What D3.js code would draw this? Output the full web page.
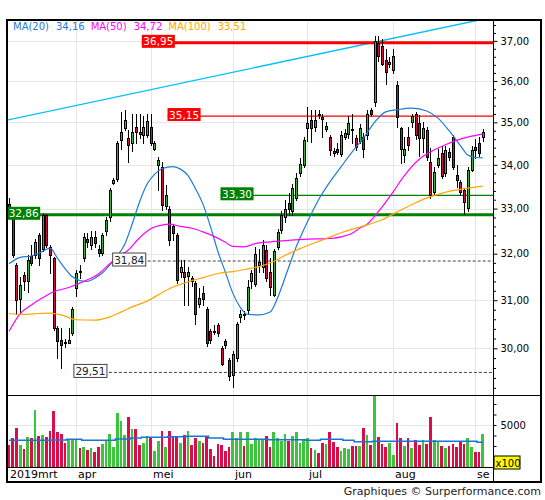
<!DOCTYPE html>
<html><head><meta charset="utf-8">
<script src="https://cdn.jsdelivr.net/npm/d3@7"></script>
<style>body{margin:0;background:#fff}svg{display:block;font-family:"DejaVu Sans",Verdana,sans-serif}</style>
</head><body><svg id="c" width="545" height="500"></svg>
<script>
// ---------- data ----------
const monthLabels = ["2019mrt","apr","mei","jun","jul","aug","se"];
const monthStart  = [0,18,38,60,80,103,125];   // trading-day index of each month start
const priceTicks  = [30,31,32,33,34,35,36,37];

const openP = [33.10,32.86,31.75,31.03,31.54,31.40,31.95,31.97,32.41,32.10,
 32.86,32.15,31.90,30.41,30.17,30.12,30.11,30.31,31.26,31.62,
 31.90,32.33,32.19,32.37,32.10,32.02,32.49,32.82,33.58,33.68,
 34.58,34.86,34.62,34.50,34.90,34.76,34.70,34.70,34.90,34.38,
 34.00,33.96,33.05,33.00,32.60,32.41,31.61,31.61,31.52,31.47,
 31.36,30.93,31.15,30.82,30.35,30.36,30.48,30.00,30.14,29.76,
 29.45,29.80,30.65,30.72,30.79,31.40,31.35,31.75,31.72,32.08,
 31.61,31.10,32.15,32.52,32.80,33.12,32.95,33.25,33.80,34.00,
 34.86,35.05,34.90,35.21,35.12,34.83,34.66,34.32,34.38,34.25,
 34.66,34.72,34.83,34.62,34.55,34.64,34.70,35.29,35.50,36.95,
 36.88,36.52,36.42,36.27,35.91,34.86,34.23,34.66,35.00,35.20,
 34.98,34.62,34.82,34.07,33.38,34.00,34.27,33.80,34.30,34.66,
 33.76,33.61,33.42,33.02,33.88,34.42,34.50,34.66];
const highP = [33.24,32.90,31.80,31.50,31.61,31.97,32.19,32.33,32.45,32.90,
 32.88,32.20,31.93,30.45,30.41,30.20,30.41,30.86,31.65,31.75,
 32.45,32.45,32.50,32.50,32.20,32.45,32.80,33.47,33.70,34.55,
 35.25,35.30,34.82,35.21,35.21,35.21,35.16,35.21,35.21,34.55,
 34.19,34.07,33.53,33.05,32.66,32.45,31.86,31.86,31.72,31.52,
 31.40,31.25,31.30,30.86,30.40,30.47,30.52,30.05,30.20,29.80,
 29.95,30.55,30.80,30.78,31.43,31.65,32.15,32.10,32.30,32.20,
 31.90,32.10,32.55,32.95,33.19,33.35,33.55,33.80,34.15,34.66,
 35.37,35.29,35.29,35.30,35.19,35.00,34.70,34.40,34.50,34.80,
 34.85,35.15,35.20,34.70,34.95,34.75,35.30,35.35,37.12,37.12,
 37.05,36.80,36.60,36.80,36.00,34.90,34.66,34.90,35.20,35.25,
 35.18,35.00,34.90,34.40,33.95,34.38,34.45,34.45,34.40,34.70,
 34.00,33.65,33.45,33.95,34.45,34.60,34.65,34.85];
const lowP = [32.80,31.93,30.72,30.70,31.22,31.18,31.75,31.91,31.75,32.05,
 32.15,31.58,30.38,29.80,29.60,30.03,30.10,30.28,31.08,31.47,
 31.83,32.15,32.10,32.15,31.95,31.97,32.40,32.72,33.55,33.62,
 34.38,34.82,34.07,34.31,34.50,34.62,34.50,34.66,34.46,34.35,
 33.42,32.97,33.00,32.20,32.30,31.36,31.50,30.90,30.90,31.30,
 30.51,30.86,30.90,30.05,30.10,30.30,30.25,29.65,30.00,29.35,
 29.22,29.75,30.55,30.60,30.72,31.26,31.30,31.60,31.60,31.40,
 31.10,31.08,32.10,32.45,32.70,32.86,32.86,33.20,33.75,33.95,
 34.55,34.54,34.80,35.10,34.66,34.80,34.22,34.20,34.25,34.20,
 34.60,34.62,34.50,34.35,34.50,34.19,34.60,35.15,35.40,36.50,
 36.40,35.92,36.35,36.20,34.90,34.04,34.07,34.35,34.90,34.60,
 34.20,34.30,34.10,33.25,33.30,33.96,33.70,33.75,34.10,33.90,
 33.50,33.30,32.88,32.95,33.85,34.15,34.20,34.55];
const closeP = [32.86,31.97,31.00,31.33,31.40,31.86,31.80,32.26,31.91,32.86,
 32.19,31.97,30.41,30.14,30.07,30.10,30.16,30.82,31.58,31.60,
 32.37,32.26,32.37,32.23,32.02,32.41,32.75,33.43,33.65,34.50,
 34.78,35.05,34.46,34.78,34.78,34.72,34.90,35.02,34.50,34.50,
 34.11,33.08,33.31,32.30,32.45,31.43,31.72,31.50,31.61,31.40,
 30.72,31.04,31.02,30.10,30.17,30.34,30.31,29.69,30.07,29.43,
 29.88,30.51,30.72,30.68,31.29,31.58,32.00,31.82,32.19,31.47,
 31.29,32.05,32.47,32.86,33.00,33.00,33.46,33.69,34.03,34.58,
 34.98,34.86,35.05,35.17,35.07,34.91,34.34,34.27,34.30,34.70,
 34.74,34.98,34.81,34.42,34.86,34.38,35.21,35.21,37.00,36.62,
 36.43,36.23,36.48,36.62,35.13,34.38,34.38,34.46,35.14,34.70,
 34.62,34.86,34.19,33.31,33.84,34.15,33.73,34.35,34.19,33.96,
 33.65,33.38,33.15,33.88,34.35,34.35,34.27,34.78];

// volume (x100)
const volume = [2619,3452,4643,2619,2143,3571,3452,6786,3690,3810,
 3571,4286,6667,4167,3929,2857,3214,3214,3214,2262,
 2381,2024,2262,1786,2381,2738,3214,3929,2381,6429,
 5476,3810,5952,4524,4524,2619,2857,3690,3571,1905,
 3095,4286,2381,4286,3690,3571,2857,3810,4286,2619,
 3452,3095,2857,3690,2143,1310,2738,2619,1905,2381,
 4167,3452,4167,2500,4167,2738,3452,3214,3214,3690,
 2381,4167,3452,3095,3929,3095,3690,4167,2857,3333,
 3452,2262,2024,1667,2857,2738,4167,2976,2381,1905,
 2262,2143,2500,2500,2500,4643,3810,2619,8700,3571,
 2738,2381,2857,1429,5238,3452,2500,3452,2262,3214,
 2619,3214,2738,5952,3214,2976,2500,2262,2500,2738,
 2381,2976,2738,3452,2381,1786,1786,3929];
const volumeMA = [3175,3175,3175,3175,3175,3175,3175,3175,3175,3175,
 3175,3175,3214,3214,3214,3214,3294,3294,3294,3294,
 3175,3175,3175,3175,3175,3175,3175,3175,3175,3333,
 3333,3333,3333,3452,3452,3452,3532,3532,3532,3532,
 3532,3532,3532,3611,3611,3611,3611,3611,3651,3651,
 3651,3651,3651,3651,3452,3452,3452,3452,3294,3294,
 3294,3294,3294,3294,3294,3294,3294,3294,3294,3294,
 3250,3250,3250,3250,3250,3250,3250,3250,3250,3250,
 3175,3175,3175,3175,3294,3294,3294,3294,3294,3294,
 3175,3175,3175,3000,3000,3000,3000,3000,3056,3056,
 3056,3056,3056,3056,3056,3056,3056,3056,3056,3056,
 3056,3056,3056,3056,3056,3056,3056,3056,3056,3056,
 3056,3056,3056,3056,3056,3056,2937,2937];

// moving averages (index, value)
const ma20Idx = [0,3,6,9,11,13,15,17,19,21,23,25,27,29,31,33,35,37,39,41,44,46,48,50,52,54,56,58,60,62,64,67,70,72,74,77,80,83,86,89,92,95,98,101,104,108,112,115,118,121,123,125,127];
const ma20Val = [31.78,31.92,31.95,32.05,32.12,31.90,31.68,31.50,31.42,31.40,31.47,31.58,31.75,31.95,32.20,32.65,33.15,33.55,33.78,33.91,33.96,33.90,33.75,33.45,33.10,32.60,32.05,31.60,31.15,30.85,30.70,30.69,30.75,31.05,31.48,32.15,32.70,33.20,33.60,33.95,34.30,34.62,35.00,35.25,35.30,35.34,35.27,35.10,34.80,34.45,34.23,34.17,34.16];
const ma50Idx = [0,3,6,9,12,16,20,24,27,30,32,35,38,41,43,46,49,52,55,58,60,63,66,70,75,80,85,89,92,94,96,99,103,106,110,113,117,121,124,127];
const ma50Val = [30.35,30.72,30.90,31.05,31.18,31.27,31.40,31.56,31.78,31.97,32.08,32.35,32.55,32.63,32.65,32.60,32.56,32.48,32.38,32.25,32.16,32.15,32.22,32.26,32.29,32.32,32.33,32.37,32.45,32.56,32.65,32.93,33.38,33.75,34.13,34.30,34.47,34.60,34.67,34.72];
const ma100Idx = [0,4,8,11,14,18,23,27,30,33,37,41,44,48,52,56,60,64,67,71,74,78,82,85,89,92,95,100,104,109,113,118,122,127];
const ma100Val = [30.72,30.70,30.72,30.73,30.69,30.59,30.58,30.65,30.75,30.86,30.98,31.16,31.28,31.39,31.48,31.57,31.61,31.67,31.72,31.83,31.96,32.11,32.24,32.33,32.46,32.54,32.61,32.75,32.92,33.13,33.27,33.39,33.45,33.51];
const maNames = ["MA(20)","MA(50)","MA(100)"];
const maLast  = [34.16, 34.72, 33.51];

// support / resistance levels and their label anchor (trading-day index)
const levelPrice  = [36.95, 35.15, 33.30, 32.86, 31.84, 29.51];
const levelAnchor = [35.6, 42.5, 56.7, -0.5, 27.8, 17.4];
const levelKind   = ["res-thick","res","sup","sup-thick","dash","dash"];
// trend line endpoints (index, price)
const trendIdx   = [-0.6, 126];
const trendPrice = [35.05, 37.53];

// ---------- layout ----------
const L = 7, R = 493, T = 20, PB = 395, VB = 467, XB = 482, OR = 541;
const svg = d3.select("#c");
const fmt = d => d3.format(".2f")(d).replace(".", ",");

const x  = d3.scaleLinear().domain([0, 127]).range([9, 482.7]);
const y  = d3.scaleLog().domain([29.059, 37.53]).range([PB, T]);
const yv = d3.scaleLinear().domain([0, 8571]).range([VB, PB]);

const defs = svg.append("defs");
defs.append("clipPath").attr("id","cp").append("rect").attr("x",L).attr("y",T).attr("width",R-L).attr("height",PB-T);
defs.append("clipPath").attr("id","cv").append("rect").attr("x",L).attr("y",PB).attr("width",R-L).attr("height",VB-PB);

// grid
const grid = svg.append("g").attr("stroke","#e6e6e6").attr("stroke-width",1).attr("shape-rendering","crispEdges");
priceTicks.forEach(p => grid.append("line").attr("x1",L).attr("x2",R).attr("y1",Math.round(y(p))+0.5).attr("y2",Math.round(y(p))+0.5));
grid.append("line").attr("x1",L).attr("x2",R).attr("y1",Math.round(yv(5000))+0.5).attr("y2",Math.round(yv(5000))+0.5);
monthStart.slice(1).forEach(i => {
  const gx = Math.round(x(i)) + 0.5;
  grid.append("line").attr("x1",gx).attr("x2",gx).attr("y1",T).attr("y2",VB);
});

// price panel
const pg = svg.append("g").attr("clip-path","url(#cp)");

// trend line
pg.append("line")
  .attr("x1", x(trendIdx[0])).attr("y1", y(trendPrice[0]))
  .attr("x2", x(trendIdx[1])).attr("y2", y(trendPrice[1]))
  .attr("stroke","#00bfff").attr("stroke-width",1.3);

// level lines
const levelStyle = {
  "res-thick": {c:"#ff0000", w:3, dash:null},
  "res":       {c:"#ff0000", w:1.2, dash:null},
  "sup":       {c:"#008000", w:1.2, dash:null},
  "sup-thick": {c:"#008000", w:3, dash:null},
  "dash":      {c:"#444444", w:1, dash:"3,2"}
};
levelPrice.forEach((p,j) => {
  const s = levelStyle[levelKind[j]];
  const ly = y(p);
  pg.append("line").attr("x1", x(levelAnchor[j])).attr("x2", R)
    .attr("y1", ly).attr("y2", ly)
    .attr("stroke", s.c).attr("stroke-width", s.w)
    .attr("stroke-dasharray", s.dash);
});

// candles
const idx = d3.range(openP.length);
const upFill = "#2fb82f", dnFill = "#d40a47";
const cg = pg.append("g").attr("shape-rendering","crispEdges");
idx.forEach(i => {
  const cx = Math.round(x(i));
  const o = openP[i], c = closeP[i];
  cg.append("line").attr("x1",cx+0.5).attr("x2",cx+0.5)
    .attr("y1",Math.round(y(highP[i]))).attr("y2",Math.round(y(lowP[i]))+1)
    .attr("stroke","#000").attr("stroke-width",1);
  const top = Math.round(y(Math.max(o,c))), bot = Math.round(y(Math.min(o,c)));
  cg.append("rect").attr("x",cx-0.5).attr("y",top+0.5).attr("width",2).attr("height",Math.max(1,bot-top))
    .attr("fill", c >= o ? upFill : dnFill).attr("stroke","#000").attr("stroke-width",1);
});

// moving averages
const maLine = d3.line().x(d => x(d[0])).y(d => y(d[1])).curve(d3.curveMonotoneX);
const maColors = ["#1f7bd6","#ff00ff","#ffa500"];
[[ma20Idx,ma20Val],[ma50Idx,ma50Val],[ma100Idx,ma100Val]].forEach(([ii,vv],j) => {
  pg.append("path").datum(ii.map((k,n)=>[k,vv[n]])).attr("d",maLine)
    .attr("fill","none").attr("stroke",maColors[j]).attr("stroke-width",1.2);
});

// volume panel
const vg = svg.append("g").attr("clip-path","url(#cv)");
vg.append("g").attr("shape-rendering","crispEdges").selectAll("rect").data(idx).join("rect")
  .attr("x", i => x(i) - 1.35).attr("width", 2.7)
  .attr("y", i => yv(volume[i])).attr("height", i => VB - yv(volume[i]))
  .attr("fill", i => closeP[i] >= openP[i] ? "#3cc43c" : "#dc0c4a");
vg.append("path").datum(idx).attr("d", d3.line().x(i => x(i)).y(i => yv(volumeMA[i])).curve(d3.curveStep))
  .attr("fill","none").attr("stroke","#1a75d1").attr("stroke-width",1.5);

// level labels
levelPrice.forEach((p,j) => {
  const kind = levelKind[j];
  const fill = kind.startsWith("res") ? "#ff0000" : kind.startsWith("sup") ? "#008000" : "#ffffff";
  const tc = kind === "dash" ? "#222" : "#fff";
  const bx = x(levelAnchor[j]), by = y(p) - 8;
  const g = svg.append("g");
  const r = g.append("rect").attr("y",by).attr("height",13).attr("fill",fill)
    .attr("stroke", kind === "dash" ? "#444" : "none").attr("stroke-width",1);
  const t = g.append("text").attr("x",bx+1.5).attr("y",by+10.5).attr("font-size",10.5).attr("fill",tc).text(fmt(p));
  const tw = t.node().getComputedTextLength();
  r.attr("x",bx).attr("width",tw+3);
});

// frames
const fr = svg.append("g").attr("stroke","#000").attr("fill","none").attr("shape-rendering","crispEdges");
fr.append("rect").attr("x",L).attr("y",T).attr("width",OR-L).attr("height",XB-T).attr("stroke-width",1.5);
fr.append("line").attr("x1",L).attr("x2",OR).attr("y1",PB+0.5).attr("y2",PB+0.5);
fr.append("line").attr("x1",L).attr("x2",R).attr("y1",VB+0.5).attr("y2",VB+0.5);
fr.append("line").attr("x1",R+0.5).attr("x2",R+0.5).attr("y1",T).attr("y2",XB);

// price axis
const styleAxis = g => { g.select(".domain").remove(); g.attr("font-family",'"DejaVu Sans",Verdana,sans-serif'); g.selectAll("text").attr("fill","#000").attr("font-size",10); };
svg.append("g").attr("transform",`translate(${R+0.5},0)`)
  .call(d3.axisRight(y).tickValues(priceTicks).tickSize(4).tickPadding(3).tickFormat(fmt)).call(styleAxis);
const minorTicks = d3.range(292, 375, 2).map(v => v/10).filter(v => v % 1 !== 0);
svg.append("g").attr("transform",`translate(${R+0.5},0)`)
  .call(d3.axisRight(y).tickValues(minorTicks).tickSize(2.5).tickFormat("")).call(styleAxis);

// volume axis
svg.append("g").attr("transform",`translate(${R+0.5},0)`)
  .call(d3.axisRight(yv).tickValues([1250,2500,3750,5000,6250,7500]).tickSize(3).tickPadding(4)
        .tickFormat(d => d === 5000 ? "5000" : "")).call(styleAxis);
svg.append("rect").attr("x",494).attr("y",456).attr("width",26).attr("height",13)
  .attr("fill","#ffff00").attr("stroke","#000").attr("stroke-width",1);
svg.append("text").attr("x",495.5).attr("y",466.5).attr("font-size",10).attr("fill","#000").text("x100");

// month labels
monthLabels.forEach((m,j) => {
  const lx = j === 0 ? 10 : Math.round(x(monthStart[j])) + 2;
  svg.append("text").attr("x",lx).attr("y",478).attr("font-size",11).attr("fill","#000").text(m);
});

// legend
let lx = 13;
maNames.forEach((n,j) => {
  const t1 = svg.append("text").attr("x",lx).attr("y",30).attr("font-size",10).attr("fill",maColors[j]).text(n);
  lx += t1.node().getComputedTextLength() + 7;
  const t2 = svg.append("text").attr("x",lx).attr("y",30).attr("font-size",10).attr("fill",maColors[j]).text(fmt(maLast[j]));
  lx += t2.node().getComputedTextLength() + 6;
});

// footer
svg.append("text").attr("x",OR).attr("y",495).attr("text-anchor","end").attr("font-size",11).attr("fill","#222")
  .text("Graphiques © Surperformance.com");
</script></body></html>
